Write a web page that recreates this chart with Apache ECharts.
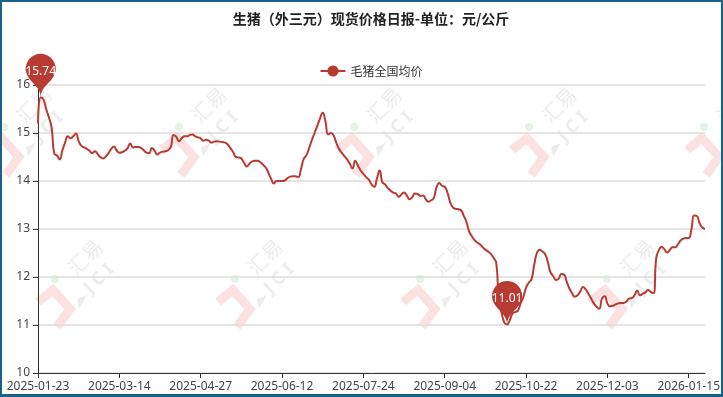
<!DOCTYPE html>
<html><head><meta charset="utf-8">
<script src="https://cdn.jsdelivr.net/npm/echarts@6/dist/echarts.min.js"></script>
<style>
html,body{margin:0;padding:0;background:#fff;}
#frame{width:723px;height:397px;box-sizing:border-box;border:2px solid #1a6287;border-bottom-width:3px;position:relative;overflow:hidden;}
#c{position:absolute;left:-2px;top:-2px;width:742px;height:397px;}
</style></head>
<body><div id="frame"><div id="c"></div></div>
<script>
const titleText = '生猪（外三元）现货价格日报-单位：元/公斤';
const seriesName = '毛猪全国均价';
const tickDates = ['2025-01-23','2025-03-14','2025-04-27','2025-06-12','2025-07-24','2025-09-04','2025-10-22','2025-12-03','2026-01-15'];
const tailDates = ['2026-01-16','2026-01-19','2026-01-20','2026-01-21','2026-01-22','2026-01-23'];
const yTicks = [10,11,12,13,14,15,16];
const prices = [
15.20,15.74,15.70,15.50,15.33,15.12,14.57,14.53,14.45,14.64,
14.80,14.93,14.89,14.93,14.99,14.83,14.73,14.70,14.67,14.63,
14.58,14.62,14.56,14.50,14.47,14.51,14.58,14.67,14.72,14.64,
14.59,14.60,14.63,14.68,14.78,14.70,14.71,14.71,14.69,14.64,
14.59,14.58,14.69,14.63,14.55,14.59,14.61,14.62,14.64,14.71,
14.96,14.92,14.83,14.89,14.93,14.93,14.96,14.97,14.93,14.91,
14.89,14.84,14.86,14.84,14.80,14.82,14.83,14.82,14.81,14.80,
14.76,14.68,14.60,14.50,14.49,14.47,14.38,14.30,14.36,14.41,
14.42,14.42,14.39,14.34,14.28,14.17,14.04,13.95,14.00,14.00,
14.00,14.01,14.06,14.09,14.10,14.10,14.08,14.25,14.46,14.54,
14.69,14.85,15.00,15.15,15.30,15.42,15.25,14.97,15.00,14.95,
14.80,14.67,14.59,14.52,14.45,14.36,14.26,14.42,14.32,14.22,
14.15,14.08,14.03,13.93,13.88,14.05,14.22,13.97,13.93,13.85,
13.80,13.76,13.74,13.67,13.72,13.76,13.70,13.62,13.66,13.74,
13.73,13.69,13.70,13.62,13.57,13.60,13.65,13.87,13.96,13.90,
13.88,13.76,13.56,13.45,13.42,13.41,13.39,13.28,13.15,12.95,
12.85,12.77,12.72,12.68,12.62,12.57,12.53,12.48,12.40,12.30,
11.50,11.25,11.05,11.01,11.10,11.24,11.27,11.30,11.45,11.58,
11.78,11.88,11.95,12.25,12.50,12.57,12.53,12.48,12.32,12.10,
12.02,11.94,11.96,12.06,12.05,11.90,11.76,11.66,11.59,11.62,
11.70,11.79,11.74,11.65,11.55,11.45,11.38,11.34,11.55,11.60,
11.45,11.39,11.40,11.43,11.45,11.46,11.46,11.49,11.55,11.56,
11.62,11.72,11.62,11.65,11.68,11.73,11.69,11.66,12.39,12.56,
12.63,12.58,12.51,12.56,12.62,12.62,12.68,12.76,12.80,12.81,
12.81,13.00,13.28,13.27,13.12,13.03,13.00
];
const perSegment = 30;
const watermarkText = ['汇易', 'JCI'];
const watermarkSpots = [[34,105],[209,105],[384,105],[559,105],[734,105],[85,257],[265,257],[450,257],[637,257]];

function fmt(d){const m=d.getUTCMonth()+1, dd=d.getUTCDate();return d.getUTCFullYear()+'-'+(m<10?'0':'')+m+'-'+(dd<10?'0':'')+dd;}
const categories = [];
for (let s = 0; s < tickDates.length - 1; s++) {
  const a = Date.parse(tickDates[s]+'T00:00:00Z'), b = Date.parse(tickDates[s+1]+'T00:00:00Z');
  for (let k = 0; k < perSegment; k++) {
    const t = a + Math.round((b - a) / 86400000 * k / perSegment) * 86400000;
    categories.push(fmt(new Date(t)));
  }
}
categories.push(tickDates[tickDates.length-1]);
tailDates.forEach(d => categories.push(d));

const graphics = [];
watermarkSpots.forEach(([cx, cy]) => {
  graphics.push({type:'group', x:cx, y:cy, z:-10, silent:true, children:[
    {type:'polyline', shape:{points:[[-47,45],[-32,33],[-15,52],[-28,70]]}, style:{stroke:'#fbe1e0',lineWidth:9,fill:null,lineJoin:'miter'}},
    {type:'circle', shape:{cx:-30,cy:22,r:4}, style:{fill:'#e4f3e4'}},
    {type:'polygon', shape:{points:[[-8,42],[2,38],[-6,52]]}, style:{fill:'#ececec'}},
    {type:'text', rotation:Math.PI/4, style:{text:watermarkText[0],x:0,y:0,fill:'#ededed',font:'20px "Noto Sans CJK SC"',align:'center',verticalAlign:'middle'}},
    {type:'text', x:14, y:22, rotation:Math.PI/4, style:{text:watermarkText[1].split('').join(' '),fill:'#ededed',font:'bold 18px "Noto Sans"',align:'center',verticalAlign:'middle'}}
  ]});
});

const lineColor = '#b93a32';
const chart = echarts.init(document.getElementById('c'), null, {renderer:'canvas'});
chart.setOption({
  animation:false,
  backgroundColor:'transparent',
  graphic:graphics,
  title:{text:titleText,left:'center',top:7,textStyle:{fontSize:14,fontWeight:'bold',color:'#222',fontFamily:'Noto Sans CJK SC'}},
  legend:{data:[seriesName],top:60,left:'center',itemWidth:25,itemHeight:14,textStyle:{fontSize:12,color:'#333',fontFamily:'Noto Sans CJK SC'}},
  grid:{left:38,right:37,top:85,bottom:24},
  xAxis:{type:'category',boundaryGap:false,data:categories,
    axisLine:{lineStyle:{color:'#333'}},
    axisTick:{interval:perSegment-1,lineStyle:{color:'#333'}},
    axisLabel:{interval:perSegment-1,color:'#444',fontSize:12,fontFamily:'Noto Sans',margin:8},
    splitLine:{show:false}},
  yAxis:{type:'value',min:yTicks[0],max:yTicks[yTicks.length-1],interval:1,
    axisLine:{show:true,lineStyle:{color:'#333'}},
    axisTick:{show:true,lineStyle:{color:'#333'}},
    axisLabel:{color:'#444',fontSize:12,fontFamily:'Noto Sans',margin:8},
    splitLine:{lineStyle:{color:'#ddd',width:1.5}}},
  series:[{name:seriesName,type:'line',data:prices,smooth:true,symbol:'circle',showSymbol:false,
    itemStyle:{color:lineColor},lineStyle:{color:lineColor,width:2},
    markPoint:{symbol:'pin',symbolSize:50,data:[{type:'max',name:'max'},{type:'min',name:'min'}],
      itemStyle:{color:lineColor},label:{color:'#fff',fontSize:12,fontFamily:'Noto Sans'}}}]
});
</script></body></html>
